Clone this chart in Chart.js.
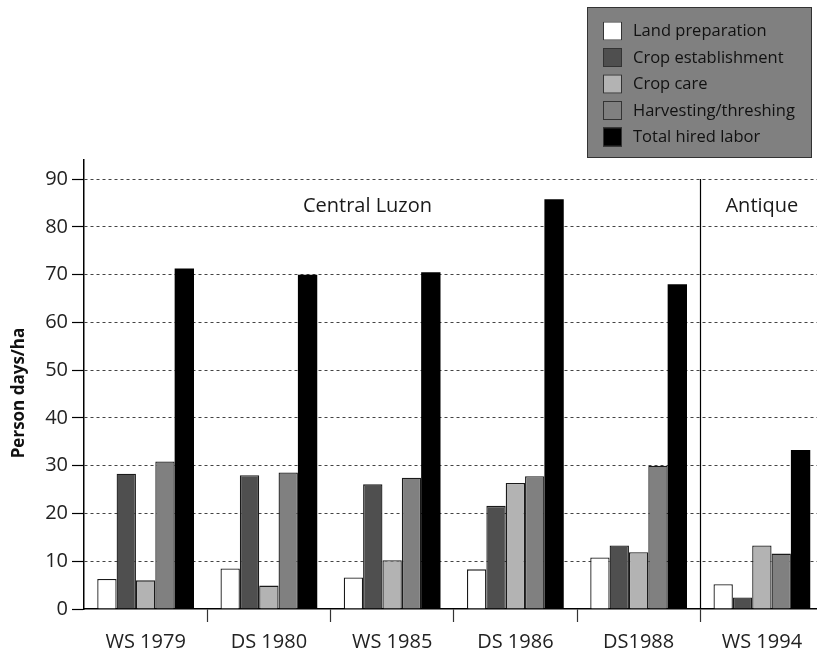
<!DOCTYPE html>
<html>
<head>
<meta charset="utf-8">
<script src="https://cdn.jsdelivr.net/npm/chart.js@4/dist/chart.umd.min.js"></script>
<style>
  html, body { margin: 0; padding: 0; background: #fff; overflow: hidden; }
  #wrap { position: absolute; left: 0; top: 0; width: 830px; height: 656px; }
</style>
</head>
<body>
<div id="wrap"><canvas id="laborChart" width="830" height="656"></canvas></div>
<script>
// Données (jours-personne / ha)
const seasons = ['WS 1979', 'DS 1980', 'WS 1985', 'DS 1986', 'DS1988', 'WS 1994'];
const landPrep    = [6.3, 8.5, 6.6, 8.3, 10.8, 5.2];
const cropEstab   = [28.3, 28.0, 26.1, 21.6, 13.3, 2.4];
const cropCare    = [6.0, 4.9, 10.2, 26.4, 11.9, 13.3];
const harvesting  = [30.9, 28.6, 27.5, 27.8, 30.0, 11.6];
const totalHired  = [71.3, 70.0, 70.5, 85.8, 68.0, 33.3];
const yTicks      = [0, 10, 20, 30, 40, 50, 60, 70, 80, 90];
const regionNames = ['Central Luzon', 'Antique'];

const FONT = '"Open Sans", "Noto Sans", sans-serif';

// Légende dans un cadre gris + annotations régions + titre Y
const extras = {
  id: 'extras',
  afterDatasetsDraw(chart) {
    const { ctx, scales: { x, y } } = chart;
    ctx.save();

    // séparateur Central Luzon / Antique
    const sepX = Math.round((x.getPixelForValue(4) + x.getPixelForValue(5)) / 2) + 0.5;
    ctx.strokeStyle = '#000';
    ctx.lineWidth = 1.2;
    ctx.beginPath();
    ctx.moveTo(sepX, y.getPixelForValue(90));
    ctx.lineTo(sepX, y.getPixelForValue(0));
    ctx.stroke();

    ctx.fillStyle = '#1a1a1a';
    ctx.font = '20px ' + FONT;
    ctx.textAlign = 'center';
    ctx.textBaseline = 'middle';
    ctx.fillText(regionNames[0], x.getPixelForValue(1.8), y.getPixelForValue(84.3));
    ctx.fillText(regionNames[1], x.getPixelForValue(5), y.getPixelForValue(84.3));

    // titre axe Y
    ctx.save();
    ctx.translate(19, 393);
    ctx.rotate(-Math.PI / 2);
    ctx.font = 'bold 17px ' + FONT;
    ctx.fillStyle = '#111';
    ctx.fillText('Person days/ha', 0, 0);
    ctx.restore();

    // légende
    ctx.fillStyle = '#808080';
    ctx.fillRect(587, 7, 224, 150);
    ctx.strokeStyle = '#333';
    ctx.lineWidth = 1;
    ctx.strokeRect(587.5, 7.5, 224, 150);
    ctx.font = '16.5px ' + FONT;
    ctx.textAlign = 'left';
    chart.data.datasets.forEach((ds, i) => {
      const cy = 30.5 + i * 26.5;
      ctx.fillStyle = ds.backgroundColor;
      ctx.fillRect(603, cy - 9, 19, 19);
      ctx.strokeStyle = '#333';
      ctx.strokeRect(603.5, cy - 8.5, 18, 18);
      ctx.fillStyle = '#111';
      ctx.fillText(ds.label, 633, cy + 1);
    });
    ctx.restore();
  }
};

function bars(label, data, color) {
  return {
    label, data,
    backgroundColor: color,
    borderColor: '#1a1a1a',
    borderWidth: color === '#000000' ? 0 : 1.3,
    barPercentage: 1.0,
    categoryPercentage: 0.785,
  };
}

new Chart(document.getElementById('laborChart'), {
  type: 'bar',
  data: {
    labels: seasons,
    datasets: [
      bars('Land preparation', landPrep, '#ffffff'),
      bars('Crop establishment', cropEstab, '#4f4f4f'),
      bars('Crop care', cropCare, '#b3b3b3'),
      bars('Harvesting/threshing', harvesting, '#808080'),
      bars('Total hired labor', totalHired, '#000000'),
    ]
  },
  options: {
    responsive: false,
    animation: false,
    devicePixelRatio: 1,
    layout: { padding: { top: 160, right: 6.5, left: 0, bottom: 0 } },
    plugins: { legend: { display: false }, tooltip: { enabled: false } },
    scales: {
      x: {
        afterFit: s => { s.height = 47; },
        grid: {
          offset: true,
          drawOnChartArea: false,
          tickLength: 13,
          tickColor: c => c.index === 0 ? 'rgba(0,0,0,0)' : '#333',
          tickWidth: 1.2,
        },
        border: { color: '#000', width: 1.5 },
        ticks: { color: '#222', font: { family: FONT, size: 20 }, padding: 8, maxRotation: 0 }
      },
      y: {
        min: 0,
        max: 94,
        afterFit: s => { s.width = 84; },
        afterBuildTicks: s => { s.ticks = yTicks.map(v => ({ value: v })); },
        grid: {
          color: c => c.tick && c.tick.value === 0 ? 'rgba(0,0,0,0)' : '#444',
          lineWidth: 1,
          tickLength: 12,
          tickColor: '#000',
          tickWidth: 1.2,
        },
        border: { color: '#000', width: 1.5, dash: [3, 3] },
        ticks: { color: '#222', font: { family: FONT, size: 20 }, padding: 4 }
      }
    }
  },
  plugins: [extras]
});
</script>
</body>
</html>
